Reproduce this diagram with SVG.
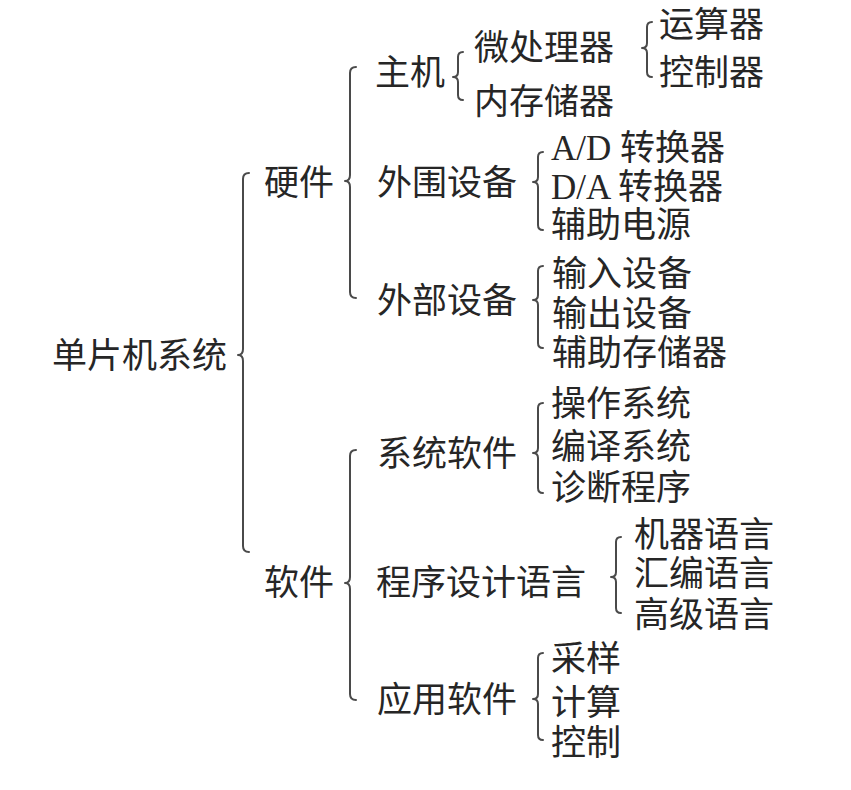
<svg xmlns="http://www.w3.org/2000/svg" width="851" height="790" viewBox="0 0 851 790">
<style>
text{font-family:"Liberation Serif","Noto Sans CJK SC",serif;font-size:35px;fill:#262626;}
.b{fill:none;stroke:#4a4a4a;stroke-width:2;stroke-linecap:round;stroke-linejoin:round;}
</style>
<rect width="851" height="790" fill="#fff"/>
<g id="connectors">
<path class="b" d="M249,173 Q243,173 243,179 L243,349 Q243,355 238,355 Q243,355 243,361 L243,546 Q243,552 249,552"/>
<path class="b" d="M356,67 Q350,67 350,73 L350,175 Q350,181 345,181 Q350,181 350,187 L350,292 Q350,298 356,298"/>
<path class="b" d="M356,450 Q350,450 350,456 L350,577 Q350,583 345,583 Q350,583 350,589 L350,694 Q350,700 356,700"/>
<path class="b" d="M463,52 Q458,52 458,57 L458,72 Q458,77 453,77 Q458,77 458,82 L458,95 Q458,100 463,100"/>
<path class="b" d="M652,22 Q647,22 647,27 L647,43 Q647,48 642,48 Q647,48 647,53 L647,72 Q647,77 652,77"/>
<path class="b" d="M543,152 Q538,152 538,157 L538,177 Q538,182 533,182 Q538,182 538,187 L538,225 Q538,230 543,230"/>
<path class="b" d="M543,266 Q538,266 538,271 L538,295 Q538,300 533,300 Q538,300 538,305 L538,343 Q538,348 543,348"/>
<path class="b" d="M543,403 Q538,403 538,408 L538,448 Q538,453 533,453 Q538,453 538,458 L538,488 Q538,493 543,493"/>
<path class="b" d="M621,537 Q616,537 616,542 L616,572 Q616,577 611,577 Q616,577 616,582 L616,608 Q616,613 621,613"/>
<path class="b" d="M543,653 Q538,653 538,658 L538,694 Q538,699 533,699 Q538,699 538,704 L538,735 Q538,740 543,740"/>
</g>
<g id="n-root"><text x="52" y="368">单片机系统</text></g>
<g id="n-hw"><text x="264" y="195">硬件</text></g>
<g id="n-sw"><text x="264" y="595">软件</text></g>
<g id="n-host"><text x="375" y="85">主机</text></g>
<g id="n-cpu"><text x="474" y="60">微处理器</text></g>
<g id="n-mem"><text x="474" y="114">内存储器</text></g>
<g id="n-alu"><text x="659" y="37">运算器</text></g>
<g id="n-ctl"><text x="659" y="85">控制器</text></g>
<g id="n-peri"><text x="377" y="195">外围设备</text></g>
<g id="n-ad"><text x="551" y="160">A/D 转换器</text></g>
<g id="n-da"><text x="551" y="199">D/A 转换器</text></g>
<g id="n-pwr"><text x="551" y="237">辅助电源</text></g>
<g id="n-ext"><text x="377" y="313">外部设备</text></g>
<g id="n-in"><text x="552" y="286">输入设备</text></g>
<g id="n-out"><text x="552" y="326">输出设备</text></g>
<g id="n-aux"><text x="552" y="365">辅助存储器</text></g>
<g id="n-syssw"><text x="377" y="466">系统软件</text></g>
<g id="n-os"><text x="551" y="416">操作系统</text></g>
<g id="n-comp"><text x="551" y="459">编译系统</text></g>
<g id="n-diag"><text x="551" y="500">诊断程序</text></g>
<g id="n-lang"><text x="376" y="595">程序设计语言</text></g>
<g id="n-mach"><text x="634" y="547">机器语言</text></g>
<g id="n-asm"><text x="634" y="586">汇编语言</text></g>
<g id="n-high"><text x="634" y="627">高级语言</text></g>
<g id="n-app"><text x="377" y="712">应用软件</text></g>
<g id="n-samp"><text x="551" y="671">采样</text></g>
<g id="n-calc"><text x="551" y="715">计算</text></g>
<g id="n-ctrl"><text x="551" y="755">控制</text></g>
</svg>
